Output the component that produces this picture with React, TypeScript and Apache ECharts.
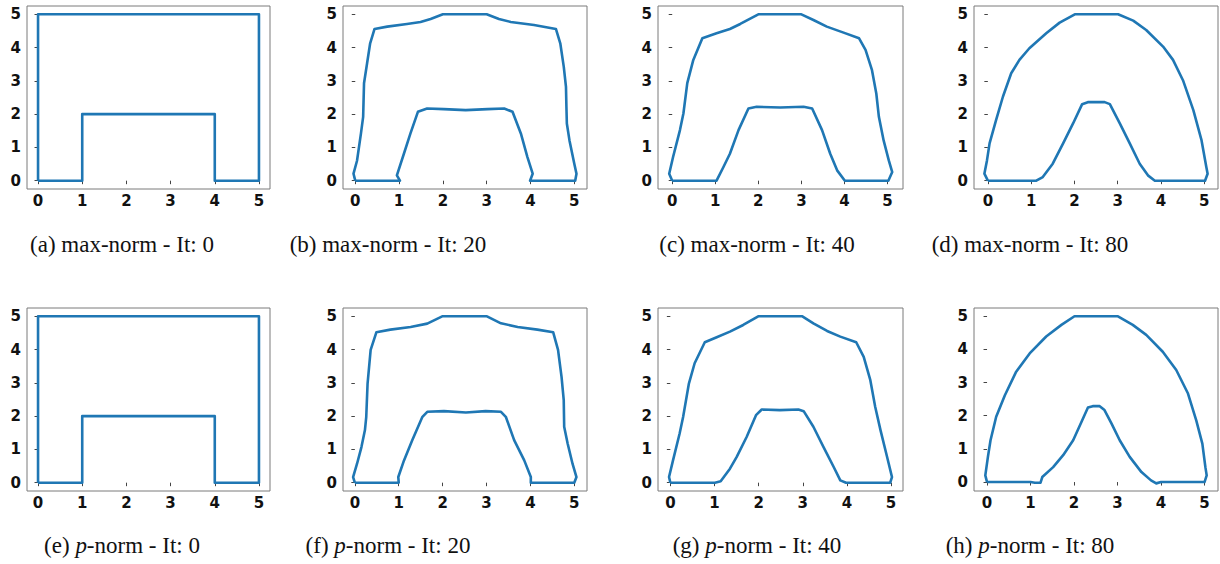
import React, { useEffect, useRef } from "react";
import * as echarts from "echarts";

const tickValues = [0, 1, 2, 3, 4, 5];

const captions = [
  "(a) max-norm - It: 0",
  "(b) max-norm - It: 20",
  "(c) max-norm - It: 40",
  "(d) max-norm - It: 80",
  "(e) {i|p}-norm - It: 0",
  "(f) {i|p}-norm - It: 20",
  "(g) {i|p}-norm - It: 40",
  "(h) {i|p}-norm - It: 80",
];

const maxNormIt0 = [[0, 0], [0, 5], [5, 5], [5, 0], [4, 0], [4, 2], [1, 2], [1, 0], [0, 0]];

const maxNormIt20 = [
  [0, 0], [-0.04, 0.21], [0.04, 0.6], [0.13, 1.42], [0.18, 1.92], [0.2, 2.93], [0.27, 3.53], [0.34, 4.13], [0.44, 4.56],
  [0.73, 4.63], [1.18, 4.71], [1.49, 4.77], [1.72, 4.86], [2.0, 5.0], [3.0, 5.0], [3.28, 4.86], [3.55, 4.77], [4.08, 4.68], [4.58, 4.56],
  [4.68, 4.13], [4.76, 3.42], [4.81, 2.82], [4.82, 2.22], [4.83, 1.72], [4.89, 1.21], [5.0, 0.51], [5.05, 0.21], [5.02, 0],
  [3.99, 0], [4.05, 0.21], [3.93, 0.71], [3.78, 1.42], [3.59, 2.07], [3.4, 2.17], [3.02, 2.15], [2.52, 2.12], [2.02, 2.15],
  [1.64, 2.17], [1.43, 2.07], [1.26, 1.42], [1.11, 0.81], [0.95, 0.16], [1.02, 0], [0, 0],
];

const maxNormIt40 = [
  [0, 0], [-0.07, 0.21], [0.02, 0.71], [0.18, 1.52], [0.26, 2.02], [0.35, 2.93], [0.49, 3.63], [0.7, 4.28], [1.03, 4.43],
  [1.34, 4.56], [1.58, 4.71], [2.0, 5], [3.0, 5], [3.28, 4.83], [3.59, 4.63], [3.98, 4.45], [4.34, 4.28], [4.49, 3.93],
  [4.64, 3.32], [4.74, 2.62], [4.8, 1.92], [4.91, 1.21], [5.03, 0.61], [5.11, 0.26], [5.02, 0], [4.01, 0], [3.83, 0.31],
  [3.67, 0.81], [3.48, 1.52], [3.25, 2.17], [3.05, 2.22], [2.51, 2.2], [1.96, 2.22], [1.77, 2.17], [1.54, 1.52], [1.34, 0.81],
  [1.19, 0.41], [1.03, 0], [0, 0],
];

const maxNormIt80 = [
  [0, 0], [-0.08, 0.21], [-0.02, 0.61], [0.04, 1.12], [0.19, 1.82], [0.35, 2.53], [0.54, 3.23], [0.73, 3.63], [0.96, 3.98],
  [1.35, 4.43], [1.66, 4.75], [2.01, 5], [3.01, 5], [3.36, 4.81], [3.66, 4.53], [4.05, 4.03], [4.28, 3.63], [4.51, 3.02],
  [4.75, 2.12], [4.94, 1.21], [5.05, 0.41], [5.08, 0.21], [5.02, 0], [3.86, 0], [3.7, 0.16], [3.51, 0.51], [3.28, 1.12],
  [3.05, 1.72], [2.82, 2.3], [2.7, 2.36], [2.31, 2.36], [2.18, 2.3], [1.97, 1.72], [1.74, 1.12], [1.5, 0.51], [1.27, 0.11],
  [1.12, 0], [0, 0],
];

const pNormIt0 = [[0, 0], [0, 5], [5, 5], [5, 0], [4, 0], [4, 2], [1, 2], [1, 0], [0, 0]];

const pNormIt20 = [
  [0, 0], [-0.04, 0.17], [0.05, 0.57], [0.15, 1.07], [0.23, 1.58], [0.26, 1.98], [0.29, 2.98], [0.36, 3.99], [0.49, 4.52],
  [0.81, 4.6], [1.27, 4.68], [1.65, 4.78], [1.99, 5], [3.01, 5], [3.33, 4.79], [3.71, 4.68], [4.16, 4.6], [4.52, 4.52],
  [4.63, 3.99], [4.71, 3.18], [4.76, 2.48], [4.77, 1.68], [4.85, 1.17], [4.96, 0.57], [5.05, 0.17], [5.0, 0], [4.01, 0],
  [4.01, 0.17], [3.86, 0.67], [3.63, 1.28], [3.44, 1.98], [3.33, 2.13], [2.98, 2.15], [2.53, 2.11], [2.03, 2.15], [1.65, 2.13],
  [1.54, 1.98], [1.31, 1.28], [1.12, 0.67], [0.99, 0.17], [1.0, 0], [0, 0],
];

const pNormIt40 = [
  [0, 0], [-0.03, 0.17], [0.06, 0.67], [0.21, 1.48], [0.29, 1.98], [0.42, 2.98], [0.55, 3.59], [0.78, 4.22], [1.05, 4.37],
  [1.35, 4.54], [1.65, 4.74], [1.99, 5], [2.99, 5], [3.24, 4.79], [3.55, 4.56], [3.85, 4.39], [4.21, 4.22], [4.38, 3.78],
  [4.53, 3.08], [4.64, 2.28], [4.76, 1.58], [4.91, 0.77], [5.02, 0.17], [4.98, 0], [3.98, 0], [3.85, 0.07], [3.7, 0.47],
  [3.47, 1.07], [3.24, 1.68], [3.02, 2.15], [2.9, 2.2], [2.48, 2.18], [2.07, 2.2], [1.94, 2.03], [1.73, 1.38], [1.5, 0.77],
  [1.35, 0.42], [1.14, 0.04], [1.01, 0], [0, 0],
];

const pNormIt80 = [
  [0, 0], [-0.04, 0.2], [0.02, 0.76], [0.08, 1.26], [0.21, 1.97], [0.41, 2.62], [0.67, 3.33], [0.98, 3.88], [1.36, 4.39],
  [1.71, 4.74], [2.01, 5], [3.01, 5], [3.35, 4.74], [3.66, 4.44], [4.04, 3.93], [4.35, 3.38], [4.62, 2.67], [4.81, 1.86],
  [4.95, 1.16], [5.02, 0.45], [5.05, 0.2], [5.0, 0], [4.0, 0], [3.89, -0.04], [3.77, 0.05], [3.55, 0.3], [3.28, 0.76],
  [3.05, 1.26], [2.86, 1.77], [2.7, 2.17], [2.59, 2.29], [2.43, 2.29], [2.32, 2.25], [2.17, 1.81], [1.98, 1.26], [1.75, 0.81],
  [1.52, 0.45], [1.27, 0.15], [1.23, -0.02], [1.1, -0.02], [1.0, 0], [0, 0],
];

const curves = [maxNormIt0, maxNormIt20, maxNormIt40, maxNormIt80, pNormIt0, pNormIt20, pNormIt40, pNormIt80];

const xRanges = [
  [-0.25, 5.25], [-0.28, 5.29], [-0.33, 5.36], [-0.32, 5.32],
  [-0.25, 5.25], [-0.27, 5.29], [-0.28, 5.27], [-0.3, 5.31],
];
const yRanges = [
  [-0.25, 5.25], [-0.25, 5.25], [-0.25, 5.25], [-0.25, 5.25],
  [-0.25, 5.25], [-0.25, 5.25], [-0.25, 5.25], [-0.27, 5.25],
];

const colLefts = [27, 343, 658, 974];
const colWidths = [243, 244, 245, 244];
const rowTops = [6, 308];
const panelHeight = 183;
const captionX = [122, 388, 757, 1030];
const captionY = [244, 545];

export default function App() {
  const ref = useRef<HTMLDivElement>(null);
  useEffect(() => {
    document.body.style.margin = "0";
    if (!ref.current) return;
    const chart = echarts.init(ref.current, null, { renderer: "svg" });
    const grids: any[] = [];
    const xAxes: any[] = [];
    const yAxes: any[] = [];
    const series: any[] = [];
    const graphics: any[] = [];
    const labelStyle = {
      fontFamily: "DejaVu Sans",
      fontWeight: 700,
      fontSize: 15,
      color: "#111",
    };
    curves.forEach((data, i) => {
      const r = Math.floor(i / 4);
      const c = i % 4;
      grids.push({
        left: colLefts[c],
        top: rowTops[r],
        width: colWidths[c],
        height: panelHeight,
        show: true,
        borderColor: "#7a7a7a",
        borderWidth: 1,
        backgroundColor: "#fff",
        containLabel: false,
      });
      const tick = { show: true, length: 3.5, lineStyle: { color: "#444", width: 1 }, customValues: tickValues };
      xAxes.push({
        type: "value",
        gridIndex: i,
        min: xRanges[i][0],
        max: xRanges[i][1],
        axisLine: { show: false },
        splitLine: { show: false },
        axisTick: tick,
        axisLabel: { customValues: tickValues, margin: 4, ...labelStyle },
      });
      yAxes.push({
        type: "value",
        gridIndex: i,
        min: yRanges[i][0],
        max: yRanges[i][1],
        axisLine: { show: false },
        splitLine: { show: false },
        axisTick: tick,
        axisLabel: { customValues: tickValues, margin: 6, ...labelStyle },
      });
      series.push({
        type: "line",
        xAxisIndex: i,
        yAxisIndex: i,
        data,
        showSymbol: false,
        symbol: "none",
        clip: false,
        lineStyle: { color: "#1f77b4", width: 2.6, join: "round" },
      });
      graphics.push({
        type: "text",
        x: captionX[c],
        y: captionY[r],
        style: {
          text: captions[i],
          fontFamily: "Liberation Serif",
          fontSize: 23,
          fill: "#111",
          align: "center",
          verticalAlign: "middle",
          rich: {
            i: { fontFamily: "Liberation Serif", fontStyle: "italic", fontSize: 23, fill: "#111" },
          },
        },
      });
    });
    chart.setOption({
      animation: false,
      backgroundColor: "#fff",
      grid: grids,
      xAxis: xAxes,
      yAxis: yAxes,
      series,
      graphic: graphics,
    });
    return () => chart.dispose();
  }, []);
  return <div ref={ref} style={{ width: 1220, height: 564 }} />;
}
